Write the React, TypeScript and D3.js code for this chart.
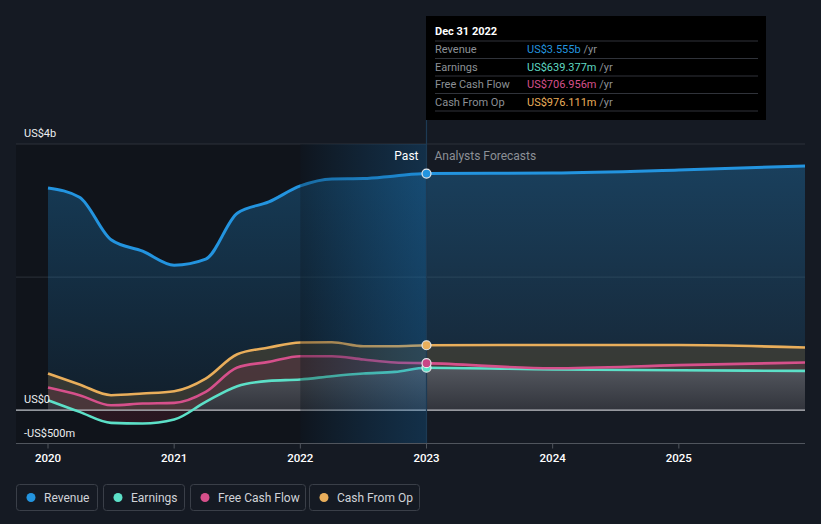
import { useMemo } from "react";
import * as d3 from "d3";

// decimal years: quarterly history up to Dec 2022, then analyst forecasts
const YEARS = [
  2020, 2020.25, 2020.5, 2020.75, 2021, 2021.25, 2021.5, 2021.75,
  2022, 2022.25, 2022.5, 2022.75, 2023, 2024, 2025, 2026,
];
const REVENUE = [3340, 3200, 2560, 2390, 2180, 2270, 2960, 3130, 3370, 3475, 3480, 3520, 3555, 3565, 3610, 3670];
const EARNINGS = [150, -25, -190, -200, -140, 125, 361, 441, 461, 511, 551, 576, 639, 612, 600, 591];
const FREE_CASH_FLOW = [341, 226, 75, 100, 110, 275, 642, 726, 812, 812, 762, 717, 707, 630, 677, 717];
const CASH_FROM_OP = [552, 386, 226, 251, 286, 476, 842, 942, 1018, 1022, 962, 962, 976, 980, 980, 942];

const X_TICKS = [2020, 2021, 2022, 2023, 2024, 2025];
const Y_GRID = [0, 2000, 4000];
const Y_LABELS = [
  { v: 4000, label: "US$4b" },
  { v: 0, label: "US$0" },
  { v: -500, label: "-US$500m" },
];

const TOOLTIP_ROWS = [
  { name: "Revenue", value: "US$3.555b", color: "#2394df" },
  { name: "Earnings", value: "US$639.377m", color: "#5fd9c3" },
  { name: "Free Cash Flow", value: "US$706.956m", color: "#d6508b" },
  { name: "Cash From Op", value: "US$976.111m", color: "#e9ae5b" },
];

const LEGEND = [
  { name: "Revenue", color: "#2394df", x: 16, w: 81 },
  { name: "Earnings", color: "#5ce0c8", x: 103, w: 81 },
  { name: "Free Cash Flow", color: "#d6508b", x: 190, w: 115 },
  { name: "Cash From Op", color: "#e9ae5b", x: 309, w: 110 },
];

const W = 821;
const H = 524;
const FONT = "Roboto, 'Noto Sans', sans-serif";
const NOW = 2023;

type Pt = { x: number; y: number };
const toPts = (vals: number[]): Pt[] => vals.map((v, i) => ({ x: YEARS[i], y: v }));

export default function App() {
  const x = useMemo(() => d3.scaleLinear().domain([2020, 2026]).range([48, 805]), []);
  const y = useMemo(() => d3.scaleLinear().domain([-500, 4000]).range([443.5, 144]), []);

  const line = d3.line<Pt>().x((d) => x(d.x)).y((d) => y(d.y)).curve(d3.curveMonotoneX);
  const area = d3
    .area<Pt>()
    .x((d) => x(d.x))
    .y0(y(0))
    .y1((d) => y(d.y))
    .curve(d3.curveMonotoneX);

  const series = {
    revenue: toPts(REVENUE),
    earnings: toPts(EARNINGS),
    fcf: toPts(FREE_CASH_FLOW),
    cfo: toPts(CASH_FROM_OP),
  };
  const nowIdx = YEARS.indexOf(NOW);
  const zeroY = y(0);
  const left = 16;
  const right = 805;
  const top = y(4000);
  const bottom = y(-500);
  const splitOff = (zeroY - y(650)) / (y(-250) - y(650));

  return (
    <svg
      width={W}
      height={H}
      style={{ position: "fixed", left: 0, top: 0, fontFamily: FONT }}
    >
      <defs>
        <linearGradient id="revFill" gradientUnits="userSpaceOnUse" x1="0" y1={y(3600)} x2="0" y2={zeroY}>
          <stop offset="0" stopColor="#2394df" stopOpacity={0.3} />
          <stop offset="1" stopColor="#2394df" stopOpacity={0.08} />
        </linearGradient>
        <linearGradient id="earnFill" gradientUnits="userSpaceOnUse" x1="0" y1={y(650)} x2="0" y2={y(-250)}>
          <stop offset="0" stopColor="#555b63" stopOpacity={0.9} />
          <stop offset={splitOff} stopColor="#2f343c" stopOpacity={0.9} />
          <stop offset={splitOff} stopColor="#5a1e2d" stopOpacity={0.35} />
          <stop offset="1" stopColor="#5a1e2d" stopOpacity={0.35} />
        </linearGradient>
        <linearGradient id="band" x1="0" y1="0" x2="1" y2="0">
          <stop offset="0" stopColor="#000a12" stopOpacity={0.3} />
          <stop offset="1" stopColor="#0d72bc" stopOpacity={0.25} />
        </linearGradient>
      </defs>

      <rect width={W} height={H} fill="#151a23" />
      {/* past region */}
      <rect x={left} y={top} width={x(2022) - left} height={bottom - top} fill="#10141b" />

      {/* grid */}
      {Y_GRID.map((v) => (
        <line key={v} x1={left} x2={right} y1={y(v)} y2={y(v)} stroke="#2c313a" strokeWidth={1} />
      ))}

      {/* areas */}
      <path d={area(series.revenue) ?? ""} fill="url(#revFill)" />
      <path d={area(series.cfo) ?? ""} fill="#464134" fillOpacity={0.7} />
      <path d={area(series.fcf) ?? ""} fill="#96325a" fillOpacity={0.2} />
      <path d={area(series.earnings) ?? ""} fill="url(#earnFill)" />

      {/* zero line */}
      <line x1={left} x2={right} y1={zeroY} y2={zeroY} stroke="#b9bcc2" strokeWidth={1.2} />

      {/* lines */}
      <path d={line(series.earnings) ?? ""} fill="none" stroke="#5ce0c8" strokeWidth={2.6} />
      <path d={line(series.fcf) ?? ""} fill="none" stroke="#d6508b" strokeWidth={2.6} />
      <path d={line(series.cfo) ?? ""} fill="none" stroke="#e9ae5b" strokeWidth={2.6} />
      <path d={line(series.revenue) ?? ""} fill="none" stroke="#2394df" strokeWidth={3} />

      {/* highlighted last year band */}
      <rect x={x(2022)} y={top} width={x(NOW) - x(2022)} height={bottom - top} fill="url(#band)" />
      <line x1={x(NOW)} x2={x(NOW)} y1={120} y2={bottom} stroke="#1d3a54" strokeWidth={1.2} />

      {/* markers at the present */}
      {[
        { s: series.earnings, c: "#5ce0c8" },
        { s: series.fcf, c: "#c94586" },
        { s: series.cfo, c: "#e9ae5b" },
        { s: series.revenue, c: "#2394df" },
      ].map(({ s, c }, i) => (
        <circle
          key={i}
          cx={x(s[nowIdx].x)}
          cy={y(s[nowIdx].y)}
          r={4.5}
          fill={c}
          stroke="#e6e8eb"
          strokeWidth={1.2}
        />
      ))}

      {/* past / forecast labels */}
      <text x={x(NOW) - 8} y={160} textAnchor="end" fill="#ffffff" fontSize={12}>
        Past
      </text>
      <text x={x(NOW) + 8} y={160} fill="#8c9096" fontSize={12}>
        Analysts Forecasts
      </text>

      {/* y labels */}
      {Y_LABELS.map((d) => (
        <text key={d.v} x={24} y={y(d.v) - 7} fill="#eceef0" fontSize={11}>
          {d.label}
        </text>
      ))}

      {/* x axis */}
      <line x1={left} x2={right} y1={bottom} y2={bottom} stroke="#50555d" strokeWidth={1} />
      {X_TICKS.map((t) => (
        <g key={t}>
          <line x1={x(t)} x2={x(t)} y1={bottom} y2={bottom + 5} stroke="#50555d" />
          <text x={x(t)} y={462} textAnchor="middle" fill="#ffffff" fontSize={11.5} fontWeight={500}>
            {t}
          </text>
        </g>
      ))}

      {/* tooltip */}
      <rect x={426} y={16} width={340} height={104} fill="#000000" />
      <text x={435} y={35} fill="#ffffff" fontSize={11} fontWeight={700}>
        Dec 31 2022
      </text>
      {TOOLTIP_ROWS.map((r, i) => {
        const base = 41 + i * 17.5;
        return (
          <g key={r.name}>
            <line x1={435} x2={758} y1={base} y2={base} stroke="#30333a" />
            <text x={435} y={base + 12} fill="#8c9096" fontSize={11}>
              {r.name}
            </text>
            <text x={527} y={base + 12} fontSize={11}>
              <tspan fill={r.color}>{r.value}</tspan>
              <tspan fill="#8c9096"> /yr</tspan>
            </text>
          </g>
        );
      })}
      <line x1={435} x2={758} y1={111} y2={111} stroke="#30333a" />

      {/* legend */}
      {LEGEND.map((l) => (
        <g key={l.name}>
          <rect x={l.x + 0.5} y={484.5} width={l.w} height={26} rx={3} fill="none" stroke="#3a3f48" />
          <circle cx={l.x + 15} cy={497.5} r={4.5} fill={l.color} />
          <text x={l.x + 28} y={501.5} fill="#d0d3d8" fontSize={12}>
            {l.name}
          </text>
        </g>
      ))}
    </svg>
  );
}
